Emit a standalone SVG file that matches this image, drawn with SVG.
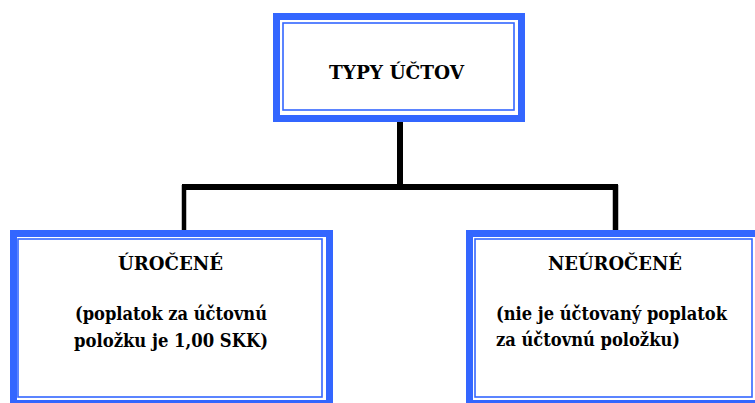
<svg xmlns="http://www.w3.org/2000/svg" width="755" height="403" viewBox="0 0 755 403">
<style>
.outer{fill:#ffffff;stroke:#3366FF;stroke-width:7}
.inner{fill:none;stroke:#3366FF;stroke-width:1.6}
.t{font-family:'DejaVu Serif Condensed','DejaVu Serif',serif;font-weight:bold;font-size:19px;fill:#000}
.c{text-anchor:middle}
.ln{stroke:#000;fill:none}
</style>
<rect width="755" height="403" fill="#ffffff"/>
<g id="connectors">
<line class="ln" x1="400" y1="117" x2="400" y2="190" stroke-width="6"/>
<line class="ln" x1="182" y1="187" x2="352" y2="187" stroke-width="6"/>
<line class="ln" x1="352" y1="187" x2="618" y2="187" stroke-width="6"/>
<line class="ln" x1="184" y1="185" x2="184" y2="233" stroke-width="4.5"/>
<line class="ln" x1="615.5" y1="185" x2="615.5" y2="233" stroke-width="5.5"/>
</g>
<g id="node-top">
<rect class="outer" x="276.5" y="16.5" width="245" height="102"/>
<rect class="inner" x="283" y="23" width="231" height="87"/>
<text class="t" x="329" y="79" textLength="135" lengthAdjust="spacingAndGlyphs">TYPY ÚČTOV</text>
</g>
<g id="node-urocene">
<rect class="outer" x="13.5" y="233.5" width="316" height="170"/>
<rect class="inner" x="18" y="239" width="304" height="158"/>
<text class="t" x="118" y="270" textLength="105" lengthAdjust="spacingAndGlyphs">ÚROČENÉ</text>
<text class="t" x="75" y="320" textLength="192" lengthAdjust="spacingAndGlyphs">(poplatok za účtovnú</text>
<text class="t" x="74" y="347" textLength="194" lengthAdjust="spacingAndGlyphs">položku je 1,00 SKK)</text>
</g>
<g id="node-neurocene">
<rect class="outer" x="469.5" y="233.5" width="300" height="170"/>
<rect class="inner" x="475" y="239" width="277" height="158"/>
<text class="t" x="548" y="270" textLength="134" lengthAdjust="spacingAndGlyphs">NEÚROČENÉ</text>
<text class="t" x="496" y="320" textLength="231" lengthAdjust="spacingAndGlyphs">(nie je účtovaný poplatok</text>
<text class="t" x="496" y="346" textLength="184" lengthAdjust="spacingAndGlyphs">za účtovnú položku)</text>
</g>
</svg>
